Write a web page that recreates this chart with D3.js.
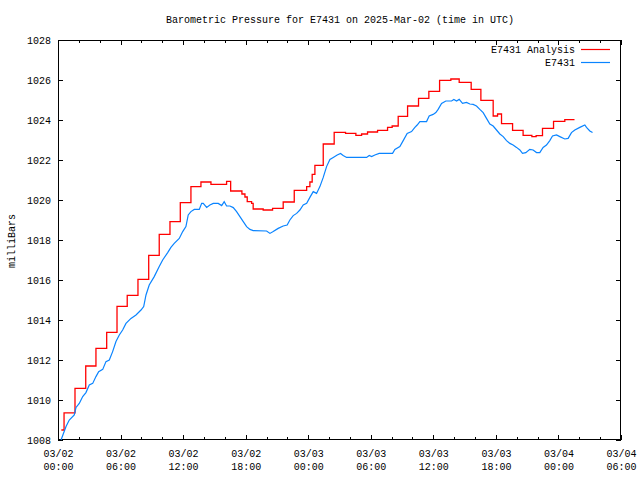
<!DOCTYPE html>
<html><head><meta charset="utf-8">
<script src="https://cdn.jsdelivr.net/npm/d3@7"></script>
<style>body{margin:0;background:#fff}svg{display:block}</style>
</head><body><svg id="c" width="640" height="480"></svg>
<script>
const titleText = "Barometric Pressure for E7431 on 2025-Mar-02 (time in UTC)";
const yLabelText = "milliBars";
const seriesNames = ["E7431 Analysis", "E7431"];
const seriesColors = ["#ff0000", "#0a84ff"];
const yTickValues = [1008, 1010, 1012, 1014, 1016, 1018, 1020, 1022, 1024, 1026, 1028];
const timeStart = "2025-03-02T00:00:00Z";
const timeEnd = "2025-03-04T06:00:00Z";

// hours since 2025-03-02 00:00 UTC
const analysisHours = [0.32,0.58,1.63,2.66,3.64,4.67,5.66,6.64,7.67,8.70,9.71,10.74,11.73,12.75,13.71,14.67,16.17,16.56,17.64,17.93,18.15,18.57,18.72,19.68,20.58,21.6,22.66,23.85,24.16,24.38,24.64,25.44,26.49,27.58,28.57,29.12,29.69,30.65,31.61,32.05,32.63,33.53,34.58,35.57,36.6,37.68,38.48,39.63,40.56,41.74,42.16,42.54,43.6,44.61,45.45,45.86,46.47,47.53,48.61,49.54];
const analysisValues = [1008.5,1009.36,1010.58,1011.7,1012.58,1013.38,1014.68,1015.23,1016.03,1017.23,1018.28,1018.92,1019.87,1020.67,1020.9,1020.78,1020.93,1020.45,1020.3,1020.15,1019.92,1019.83,1019.55,1019.5,1019.58,1019.9,1020.48,1020.67,1020.9,1021.28,1021.73,1022.8,1023.38,1023.33,1023.23,1023.3,1023.4,1023.48,1023.63,1023.7,1024.18,1024.7,1025.08,1025.43,1025.98,1026.05,1025.88,1025.53,1024.98,1024.2,1024.3,1023.82,1023.48,1023.23,1023.17,1023.22,1023.58,1023.93,1024.02,1024.02];

const stationHours = [0.29,0.77,1.08,1.56,1.73,2.04,2.37,2.68,3.0,3.33,3.64,3.9,4.29,4.6,4.92,5.24,5.56,5.88,6.2,6.52,7.0,7.48,7.96,8.22,8.44,8.75,9.23,9.71,10.04,10.52,10.83,11.15,11.63,11.96,12.27,12.49,12.75,13.07,13.55,13.78,13.93,14.26,14.57,14.89,15.37,15.7,15.94,16.17,16.49,16.81,17.13,17.45,17.77,18.09,18.41,18.72,20.01,20.33,20.64,21.12,21.6,21.98,22.24,22.56,22.89,23.2,23.52,23.85,24.16,24.48,24.8,25.12,25.44,25.76,26.08,26.4,26.78,27.1,27.35,27.68,29.6,29.85,30.08,30.39,30.81,32.09,32.31,32.79,33.11,33.49,33.91,34.23,34.45,34.71,35.35,35.6,35.98,36.24,36.46,36.79,37.2,37.75,37.97,38.23,38.48,38.8,39.18,39.5,39.82,40.14,40.46,40.78,41.1,41.42,41.74,42.06,42.38,42.7,43.02,43.34,43.65,43.98,44.3,44.55,44.87,45.25,45.57,45.9,46.21,46.53,46.85,47.17,47.43,47.81,48.13,48.61,48.93,49.25,49.57,50.05,50.53,50.69,51.01,51.27];
const stationValues = [1008.0,1008.67,1009.0,1009.25,1009.63,1009.83,1010.17,1010.37,1010.75,1010.83,1011.17,1011.42,1011.53,1011.92,1012.0,1012.42,1012.92,1013.25,1013.5,1013.83,1014.08,1014.25,1014.5,1014.67,1015.25,1015.75,1016.17,1016.67,1017.0,1017.37,1017.63,1017.83,1018.08,1018.42,1018.67,1019.25,1019.42,1019.53,1019.53,1019.83,1019.83,1019.63,1019.75,1019.83,1019.83,1019.72,1019.92,1019.7,1019.7,1019.62,1019.42,1019.17,1018.92,1018.67,1018.53,1018.47,1018.45,1018.33,1018.42,1018.58,1018.7,1018.75,1019.0,1019.22,1019.33,1019.5,1019.75,1019.83,1020.13,1020.42,1020.33,1020.67,1021.13,1021.67,1022.03,1022.13,1022.25,1022.33,1022.23,1022.13,1022.13,1022.23,1022.17,1022.25,1022.33,1022.33,1022.53,1022.67,1022.97,1023.33,1023.42,1023.63,1023.75,1023.92,1023.92,1024.2,1024.28,1024.37,1024.53,1024.83,1024.95,1024.95,1025.03,1024.95,1025.03,1024.83,1024.88,1024.8,1024.78,1024.7,1024.53,1024.37,1024.08,1023.8,1023.7,1023.5,1023.3,1023.17,1022.97,1022.83,1022.75,1022.63,1022.5,1022.33,1022.37,1022.53,1022.5,1022.37,1022.37,1022.63,1022.75,1022.97,1023.2,1023.25,1023.17,1023.05,1023.08,1023.37,1023.5,1023.63,1023.75,1023.63,1023.45,1023.37];

const FONT = "'Liberation Mono', 'DejaVu Sans Mono', monospace";
const svg = d3.select("#c");
const L = 58, R = 621, T = 40, B = 440;
const t0 = new Date(timeStart), t1 = new Date(timeEnd);
const hr = h => new Date(t0.getTime() + h * 3600e3);

const x = d3.scaleUtc().domain([t0, t1]).range([L, R]);
const y = d3.scaleLinear().domain([1008, 1028]).range([B, T]);

svg.append("rect").attr("width", 640).attr("height", 480).attr("fill", "#fff");

// axes (ticks inward, mirrored)
const majorX = d3.utcHour.every(6).range(t0, new Date(t1.getTime() + 1));
const minorX = d3.utcHour.every(2).range(t0, new Date(t1.getTime() + 1)).filter(d => d.getUTCHours() % 6 !== 0);

function styleAxis(g) {
  g.select(".domain").remove();
  g.selectAll("line").attr("stroke", "#000").attr("shape-rendering", "crispEdges");
  g.selectAll("text").attr("font-family", FONT).attr("font-size", 10).attr("fill", "#000");
}

const xb = svg.append("g").attr("transform", `translate(0,${B})`)
  .call(d3.axisBottom(x).tickValues(majorX).tickSize(-5).tickPadding(10)
    .tickFormat(d3.utcFormat("%m/%d")));
styleAxis(xb);
xb.selectAll(".tick text").each(function(d) {
  const t = d3.select(this);
  t.text(null).attr("y", 0).attr("dy", null);
  t.append("tspan").attr("x", 0).attr("y", 16.5).text(d3.utcFormat("%m/%d")(d));
  t.append("tspan").attr("x", 0).attr("y", 29.5).text(d3.utcFormat("%H:%M")(d));
});
styleAxis(svg.append("g").attr("transform", `translate(0,${B})`)
  .call(d3.axisBottom(x).tickValues(minorX).tickSize(-3).tickFormat("")));
styleAxis(svg.append("g").attr("transform", `translate(0,${T})`)
  .call(d3.axisTop(x).tickValues(majorX).tickSize(-5).tickFormat("")));
styleAxis(svg.append("g").attr("transform", `translate(0,${T})`)
  .call(d3.axisTop(x).tickValues(minorX).tickSize(-3).tickFormat("")));

const yl = svg.append("g").attr("transform", `translate(${L},0)`)
  .call(d3.axisLeft(y).tickValues(yTickValues).tickSize(-5).tickPadding(7).tickFormat(d3.format("d")));
styleAxis(yl);
yl.selectAll(".tick text").attr("x", -7);
styleAxis(svg.append("g").attr("transform", `translate(${R},0)`)
  .call(d3.axisRight(y).tickValues(yTickValues).tickSize(-5).tickFormat("")));

// border
svg.append("rect").attr("x", L + 0.5).attr("y", T + 0.5).attr("width", R - L - 1).attr("height", B - T - 1)
  .attr("fill", "none").attr("stroke", "#000").attr("shape-rendering", "crispEdges");

// lines
const analysis = analysisHours.map((h, i) => [hr(h), analysisValues[i]]);
const station = stationHours.map((h, i) => [hr(h), stationValues[i]]);

svg.append("path").datum(analysis)
  .attr("d", d3.line().x(d => x(d[0])).y(d => y(d[1])).curve(d3.curveStepAfter))
  .attr("fill", "none").attr("stroke", seriesColors[0]).attr("stroke-width", 1.3);
svg.append("path").datum(station)
  .attr("d", d3.line().x(d => x(d[0])).y(d => y(d[1])))
  .attr("fill", "none").attr("stroke", seriesColors[1]).attr("stroke-width", 1.2);

// title and labels
svg.append("text").attr("x", 340).attr("y", 23).attr("text-anchor", "middle")
  .attr("font-family", FONT).attr("font-size", 10).text(titleText);
svg.append("text").attr("transform", "translate(15,241) rotate(-90)").attr("text-anchor", "middle")
  .attr("font-family", FONT).attr("font-size", 10).text(yLabelText);

// legend
seriesNames.forEach((name, i) => {
  const ly = 49.5 + i * 13;
  svg.append("text").attr("x", 575).attr("y", ly + 3.5).attr("text-anchor", "end")
    .attr("font-family", FONT).attr("font-size", 10).text(name);
  svg.append("line").attr("x1", 581).attr("x2", 610).attr("y1", ly).attr("y2", ly)
    .attr("stroke", seriesColors[i]).attr("stroke-width", 1.2);
});
</script></body></html>
